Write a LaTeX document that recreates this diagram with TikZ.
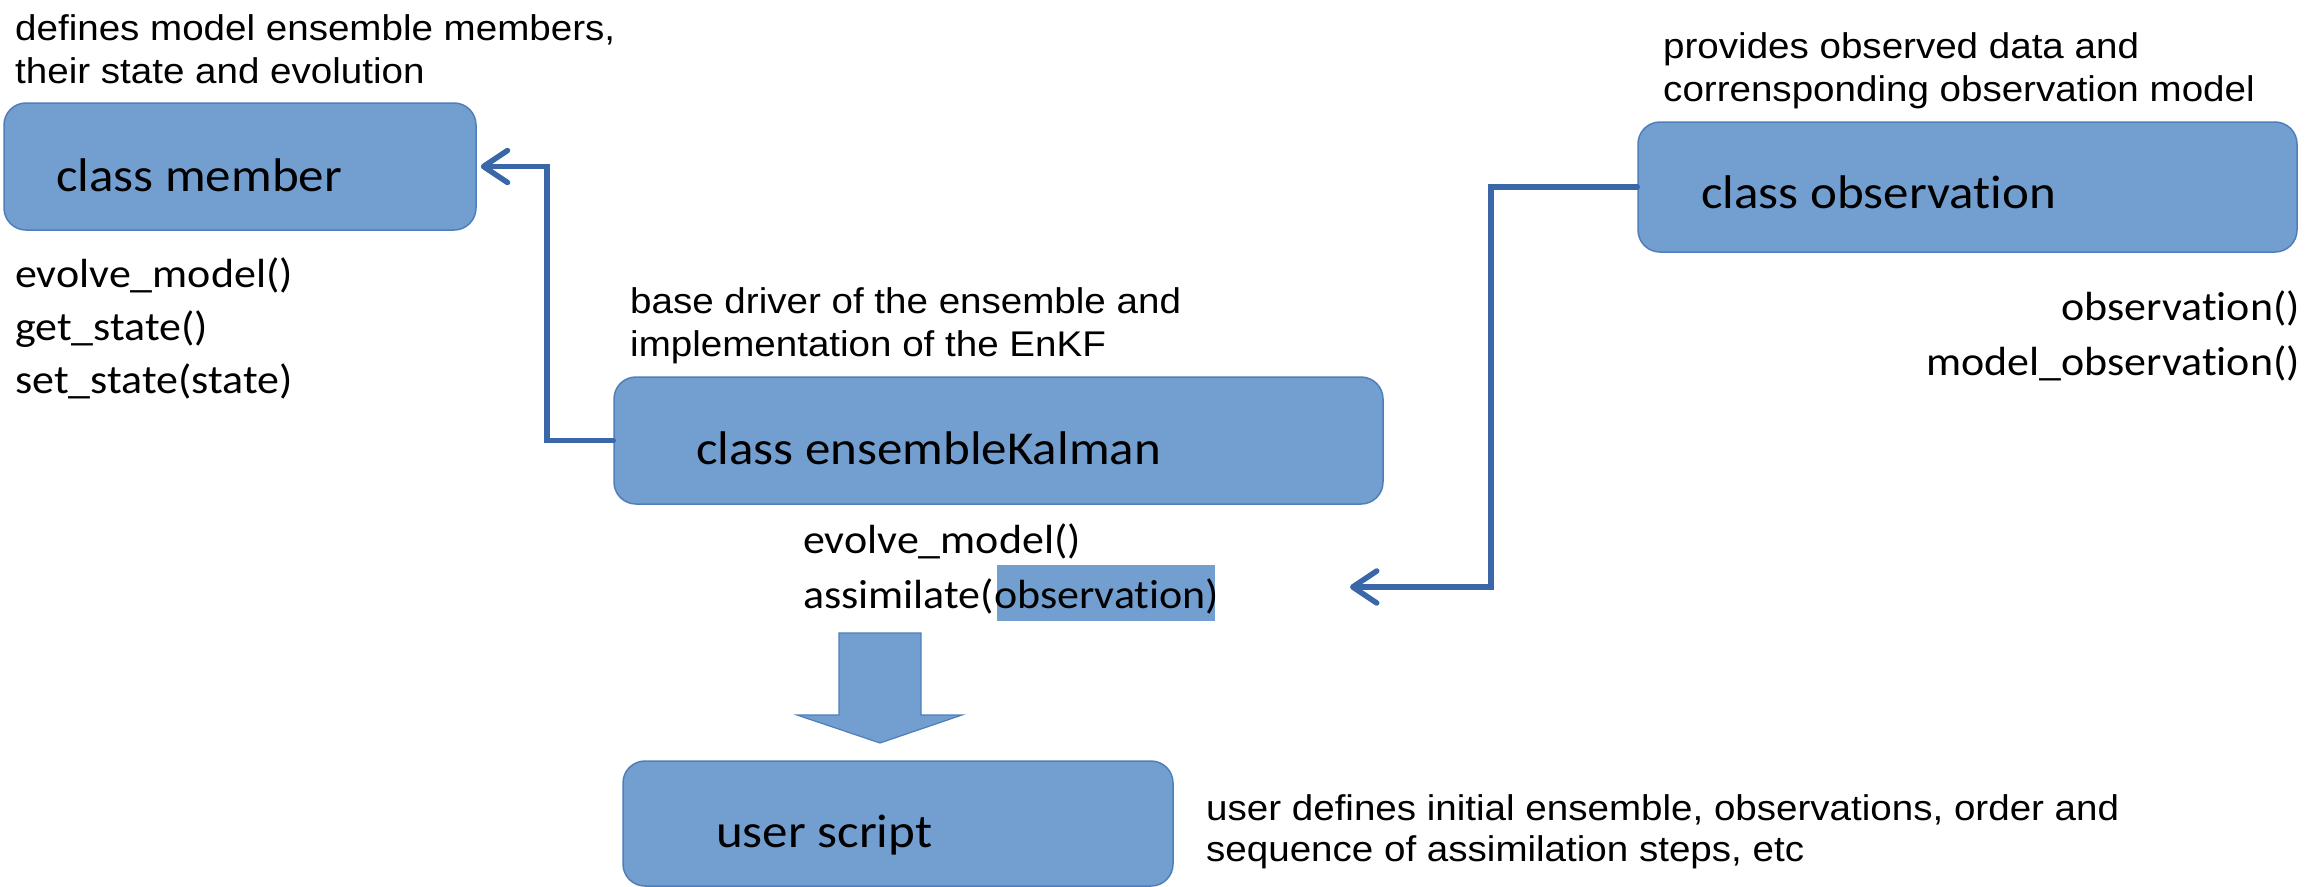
\documentclass[tikz,border=0pt]{standalone}
\usepackage{fontspec}
\usetikzlibrary{arrows.meta}
\newfontfamily\calib{Carlito}[FakeStretch=1.08,Ligatures={NoCommon}]
\newfontfamily\arialx{Liberation Sans}[FakeStretch=1.08]
\definecolor{boxfill}{RGB}{114,159,207}
\definecolor{boxline}{RGB}{79,127,186}
\definecolor{connc}{RGB}{58,103,168}
\begin{document}
\begin{tikzpicture}[x=1pt,y=-1pt,
  classbox/.style={draw=boxline,line width=1.5pt,fill=boxfill,rounded corners=22pt,inner sep=0pt},
  classlbl/.style={anchor=base west,inner sep=0pt,font=\calib\fontsize{47.2}{56}\selectfont},
  methodtxt/.style={inner sep=0pt,font=\calib\fontsize{40.7}{48}\selectfont},
  captxt/.style={anchor=base west,inner sep=0pt,font=\arialx\fontsize{35.7}{42}\selectfont},
  conn/.style={draw=connc,line width=5.5pt,line cap=round,line join=miter,
    -{Straight Barb[length=24pt,width=32pt,line width=5.5pt,round]}}
]
\useasboundingbox (0,0) rectangle (2307,886);
\fill[white] (0,0) rectangle (2307,886);

% boxes
\node[classbox,minimum width=472pt,minimum height=127pt] (mem) at (240,166.5) {};
\node[classbox,minimum width=769pt,minimum height=127pt] (ens) at (998.5,440.5) {};
\node[classbox,minimum width=659pt,minimum height=130pt] (obs) at (1967.5,187) {};
\node[classbox,minimum width=550pt,minimum height=125pt] (usr) at (898,823.5) {};

% class labels
\node[classlbl] (memlbl) at (56,191) {class member};
\node[classlbl] (enslbl) at (696,464) {class ensembleKalman};
\node[classlbl] (obslbl) at (1701,208) {class observation};
\node[classlbl] (usrlbl) at (716,847) {user script};

% captions
\node[captxt] (capm1) at (15,40) {defines model ensemble members,};
\node[captxt] (capm2) at (15,83) {their state and evolution};
\node[captxt] (cape1) at (630,313) {base driver of the ensemble and};
\node[captxt] (cape2) at (630,356) {implementation of the EnKF};
\node[captxt] (capo1) at (1663,58) {provides observed data and};
\node[captxt] (capo2) at (1663,101) {corrensponding observation model};
\node[captxt] (capu1) at (1206,820) {user defines initial ensemble, observations, order and};
\node[captxt] (capu2) at (1206,861) {sequence of assimilation steps, etc};

% methods
\node[methodtxt,anchor=base west] (mm1) at (15,287) {evolve\_model()};
\node[methodtxt,anchor=base west] (mm2) at (15,340) {get\_state()};
\node[methodtxt,anchor=base west] (mm3) at (15,393) {set\_state(state)};

\fill[boxfill] (997,565) rectangle (1215,621);
\node[methodtxt,anchor=base west] (em1) at (803,553) {evolve\_model()};
\node[methodtxt,anchor=base west] (em2) at (803,608) {assimilate(observation)};

\node[methodtxt,anchor=base east] (om1) at (2300,320) {observation()};
\node[methodtxt,anchor=base east] (om2) at (2300,375) {model\_observation()};

% connectors
\coordinate (k1) at (547,440.5);
\draw[conn] (ens.west) -- (k1) |- ([xshift=4pt]mem.east);
\coordinate (k2) at (1491,587);
\coordinate (t2) at (1350,587);
\draw[conn] (obs.west) -| (k2) -- (t2);

% block arrow
\draw[draw=boxline,line width=1.2pt,fill=boxfill]
  (839,633) -- (921,633) -- (921,715) -- (962,715) -- (880,743) -- (797,715) -- (839,715) -- cycle;
\end{tikzpicture}
\end{document}
